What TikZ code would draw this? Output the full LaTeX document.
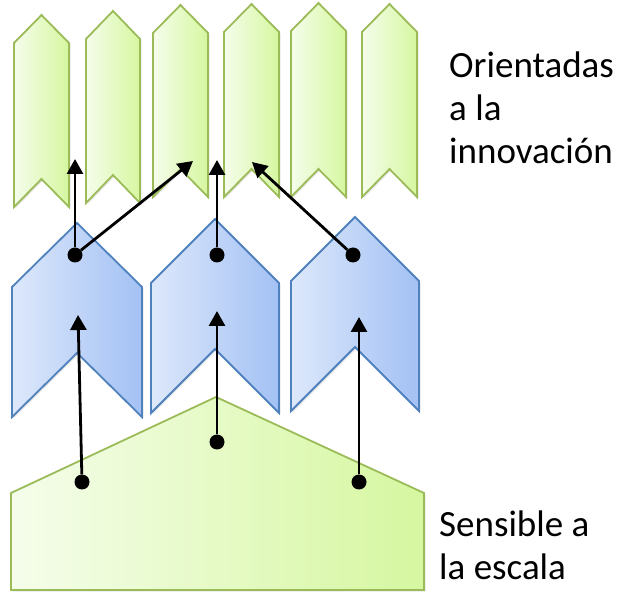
\documentclass[tikz,border=0pt]{standalone}
\usepackage{fontspec}
\setmainfont{Carlito}
\usetikzlibrary{arrows.meta,calc,positioning,shadows}
\definecolor{grnline}{HTML}{9BBB59}
\definecolor{grnlight}{HTML}{F5FDEB}
\definecolor{grndark}{HTML}{D6F7A0}
\definecolor{bluline}{HTML}{4F81BD}
\definecolor{blulight}{HTML}{DDE8FB}
\definecolor{bludark}{HTML}{A3C1F4}
% chevron: left, right, tip, bottom, depth
\newcommand{\chev}[5]{(#1,#3+#5) -- ({(#1+#2)/2},#3) -- (#2,#3+#5)
  -- (#2,#4) -- ({(#1+#2)/2},#4-#5) -- (#1,#4) -- cycle}

\begin{document}
\begin{tikzpicture}[x=1pt,y=-1pt,
  shade/.style={drop shadow={shadow xshift=1.5pt,shadow yshift=-1.5pt,opacity=.2}},
  grnchev/.style={shade,draw=grnline,line width=1.8pt,left color=grnlight,right color=grndark},
  bluchev/.style={shade,draw=bluline,line width=1.8pt,left color=blulight,right color=bludark},
  dot/.style={circle,fill=black,inner sep=0pt,minimum size=15pt},
  arr/.style={-{Triangle[length=15pt,width=16pt]},line width=2.8pt},
  lbl/.style={align=left,inner sep=0pt,font=\fontsize{37}{43}\selectfont}]
  \useasboundingbox (0,0) rectangle (619,593);

  \foreach \xl/\xr/\yt/\yb in {14/69/15/207,86/140/11/203,153/208/5/197,
    224/279/4/197,291/346/3/197,362/417/4/197} {
    \draw[grnchev] \chev{\xl}{\xr}{\yt}{\yb}{28};
  }
  \foreach \xl/\xr/\yt/\yb in {12/142/223/417,151/279/219/413,291/419/217/411} {
    \draw[bluchev] \chev{\xl}{\xr}{\yt}{\yb}{64};
  }
  \draw[grnchev] (11,493) -- (216,397) -- (424,493) -- (424,590) -- (11,590) -- cycle;

  \node[dot] (b1) at (75,255) {};
  \node[dot] (b2) at (217,255) {};
  \node[dot] (b3) at (353,255) {};
  \node[dot] (p1) at (82,482) {};
  \node[dot] (p2) at (217,442) {};
  \node[dot] (p3) at (359,482) {};

  \coordinate (t1) at (75,159);
  \coordinate (t2) at (193,161);
  \coordinate (t3) at (217,160);
  \coordinate (t4) at (252,162);
  \coordinate (u1) at (78,315);
  \coordinate (u2) at (217,311);
  \coordinate (u3) at (359,317);

  \foreach \n / \m in {b1/t1,b1/t2,b2/t3,b3/t4,p1/u1,p2/u2,p3/u3} {
    \draw[arr] (\n) -- (\m);
  }

  \node[lbl,anchor=north west] (innov) at (449,52) {Orientadas\\a la\\innovación};
  \node[lbl,anchor=north west] (escala) at (439,511) {Sensible a\\la escala};
\end{tikzpicture}
\end{document}
